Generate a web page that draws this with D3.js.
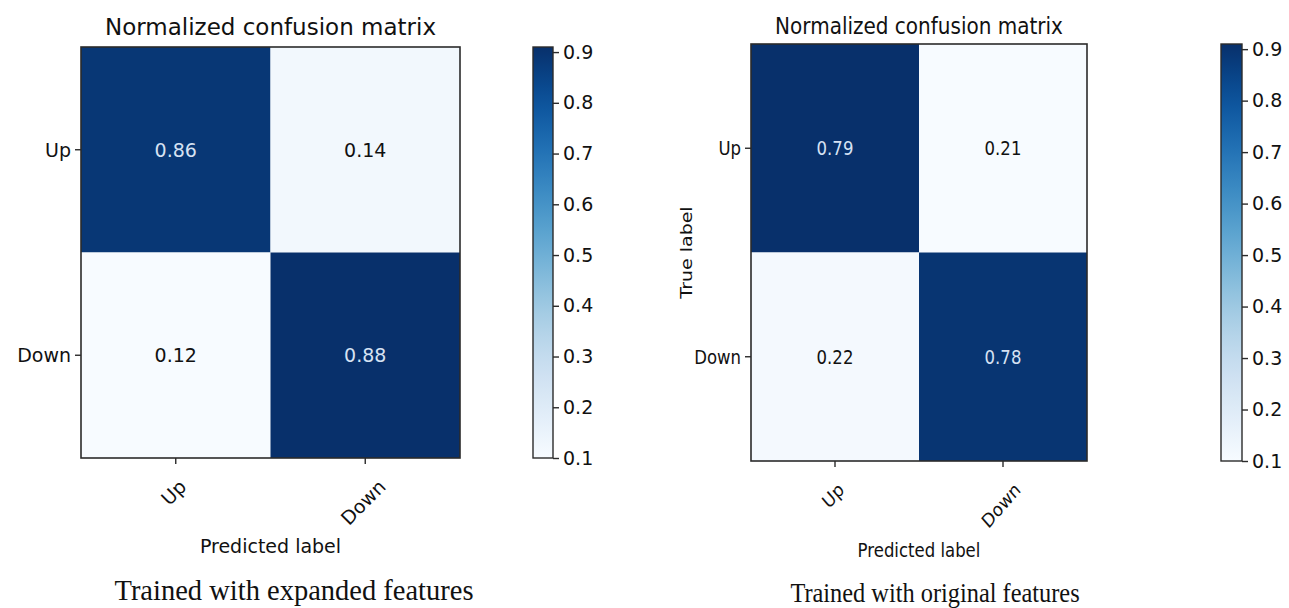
<!DOCTYPE html>
<html>
<head>
<meta charset="utf-8">
<script src="https://cdn.jsdelivr.net/npm/d3@7"></script>
<style>
  html, body { margin: 0; padding: 0; background: #fff; }
  svg { display: block; }
  text { font-family: "DejaVu Sans", sans-serif; fill: #111; }
  .caption { font-family: "Liberation Serif", "Times New Roman", serif; fill: #111; }
</style>
</head>
<body>
<svg id="chart" width="1289" height="608"></svg>
<script>
// Class labels shared by both confusion matrices
const classes = ["Up", "Down"];

// Row-normalised confusion matrices (rows = true label, cols = predicted label)
const matrixExpanded = [[0.86, 0.14], [0.12, 0.88]];
const matrixOriginal = [[0.79, 0.21], [0.22, 0.78]];

// Colour bar range and ticks
const colorbarDomain = [0.1, 0.91];
const colorbarTicks = [0.1, 0.2, 0.3, 0.4, 0.5, 0.6, 0.7, 0.8, 0.9];

const titleText = "Normalized confusion matrix";
const xAxisLabel = "Predicted label";
const yAxisLabel = "True label";
const captions = ["Trained with expanded features", "Trained with original features"];

// Panel geometry
const panels = [
  { data: matrixExpanded, caption: captions[0], x0: 81, x1: 460, y0: 47, y1: 458,
    cbX: 533, cbW: 20, sx: 1, titleY: 35, xlabY: 553, showYLabel: false,
    capX: 294, capY: 600, capSize: 28.5, capSx: 1 },
  { data: matrixOriginal, caption: captions[1], x0: 751, x1: 1087, y0: 44, y1: 461,
    cbX: 1221, cbW: 21, sx: 0.87, titleY: 34, xlabY: 557, showYLabel: true, yLabX: 692,
    capX: 935, capY: 602, capSize: 28, capSx: 0.87 }
];

const svg = d3.select("#chart");
svg.append("rect").attr("width", 1289).attr("height", 608).attr("fill", "#fff");

const FS = 19;

panels.forEach((p, pi) => {
  const g = svg.append("g");
  const x = d3.scaleBand().domain(classes).range([p.x0, p.x1]);
  const y = d3.scaleBand().domain(classes).range([p.y0, p.y1]);

  // Cells, coloured over the matrix's own value range
  const cells = [];
  p.data.forEach((row, i) => row.forEach((v, j) => cells.push({ t: classes[i], pr: classes[j], v })));
  const color = d3.scaleSequential(d3.interpolateBlues).domain(d3.extent(cells, d => d.v));
  g.selectAll("rect.cell").data(cells).join("rect")
    .attr("class", "cell")
    .attr("x", d => x(d.pr)).attr("y", d => y(d.t))
    .attr("width", x.bandwidth()).attr("height", y.bandwidth())
    .attr("fill", d => color(d.v));

  // Cell annotations
  const thresh = (d3.max(cells, d => d.v) + d3.min(cells, d => d.v)) / 2;
  g.selectAll("text.val").data(cells).join("text")
    .attr("class", "val")
    .attr("transform", d => `translate(${x(d.pr) + x.bandwidth() / 2},${y(d.t) + y.bandwidth() / 2}) scale(${p.sx},1)`)
    .attr("text-anchor", "middle").attr("dy", "0.36em")
    .style("font-size", FS + "px")
    .style("fill", d => d.v > thresh ? "#d6e2f3" : "#111")
    .text(d => d.v.toFixed(2));

  // Frame
  g.append("rect")
    .attr("x", p.x0).attr("y", p.y0)
    .attr("width", p.x1 - p.x0).attr("height", p.y1 - p.y0)
    .attr("fill", "none").attr("stroke", "#2b2b2b").attr("stroke-width", 1.6);

  // Left axis (true label)
  const ay = g.append("g").attr("transform", `translate(${p.x0},0)`)
    .call(d3.axisLeft(y).tickSize(6).tickPadding(4));
  ay.select(".domain").remove();
  ay.selectAll(".tick line").attr("stroke", "#2b2b2b").attr("stroke-width", 1.4);
  ay.selectAll(".tick text")
    .attr("x", null).attr("dy", null)
    .attr("transform", `translate(-10,0) scale(${p.sx},1)`)
    .attr("text-anchor", "end").attr("dy", "0.36em")
    .style("font-size", FS + "px").style("font-family", "DejaVu Sans").attr("fill", "#111");

  // Bottom axis (predicted label), labels rotated 45 degrees
  const ax = g.append("g").attr("transform", `translate(0,${p.y1})`)
    .call(d3.axisBottom(x).tickSize(6));
  ax.select(".domain").remove();
  ax.selectAll(".tick line").attr("stroke", "#2b2b2b").attr("stroke-width", 1.4);
  ax.selectAll(".tick text")
    .attr("y", null).attr("dy", null)
    .style("font-size", FS + "px").style("font-family", "DejaVu Sans").attr("fill", "#111")
    .attr("text-anchor", "middle").attr("dy", "0.35em")
    .each(function () {
      const w = this.getComputedTextLength();
      const h = FS * 0.8;
      const half = (w + h) * Math.SQRT1_2 / 2;
      d3.select(this).attr("transform", `translate(-2,${20 + half}) scale(${p.sx},1) rotate(-45)`);
    });

  // Title
  g.append("text")
    .attr("transform", `translate(${(p.x0 + p.x1) / 2},${p.titleY}) scale(${p.sx},1)`)
    .attr("text-anchor", "middle").style("font-size", "23px")
    .text(titleText);

  // Axis titles
  g.append("text")
    .attr("transform", `translate(${(p.x0 + p.x1) / 2},${p.xlabY}) scale(${p.sx},1)`)
    .attr("text-anchor", "middle").style("font-size", FS + "px")
    .text(xAxisLabel);
  if (p.showYLabel) {
    g.append("text")
      .attr("transform", `translate(${p.yLabX},${(p.y0 + p.y1) / 2}) scale(${p.sx},1) rotate(-90)`)
      .attr("text-anchor", "middle").style("font-size", FS + "px")
      .text(yAxisLabel);
  }

  // Colour bar
  const cb = d3.scaleLinear().domain(colorbarDomain).range([p.y1, p.y0]);
  const gradId = "blues" + pi;
  const grad = svg.append("defs").append("linearGradient")
    .attr("id", gradId).attr("x1", 0).attr("y1", 1).attr("x2", 0).attr("y2", 0);
  d3.range(0, 1.0001, 0.05).forEach(t => {
    grad.append("stop").attr("offset", t).attr("stop-color", d3.interpolateBlues(t));
  });
  g.append("rect")
    .attr("x", p.cbX).attr("y", p.y0)
    .attr("width", p.cbW).attr("height", p.y1 - p.y0)
    .attr("fill", `url(#${gradId})`)
    .attr("stroke", "#2b2b2b").attr("stroke-width", 1.4);
  const acb = g.append("g").attr("transform", `translate(${p.cbX + p.cbW},0)`)
    .call(d3.axisRight(cb).tickValues(colorbarTicks).tickFormat(d3.format(".1f")).tickSize(6).tickPadding(4));
  acb.select(".domain").remove();
  acb.selectAll(".tick line").attr("stroke", "#2b2b2b").attr("stroke-width", 1.4);
  acb.selectAll(".tick text")
    .style("font-size", FS + "px").style("font-family", "DejaVu Sans").attr("fill", "#111");

  // Caption below the panel
  svg.append("text").attr("class", "caption")
    .attr("transform", `translate(${p.capX},${p.capY}) scale(${p.capSx},1)`)
    .attr("text-anchor", "middle").style("font-size", p.capSize + "px")
    .text(p.caption);
});
</script>
</body>
</html>
